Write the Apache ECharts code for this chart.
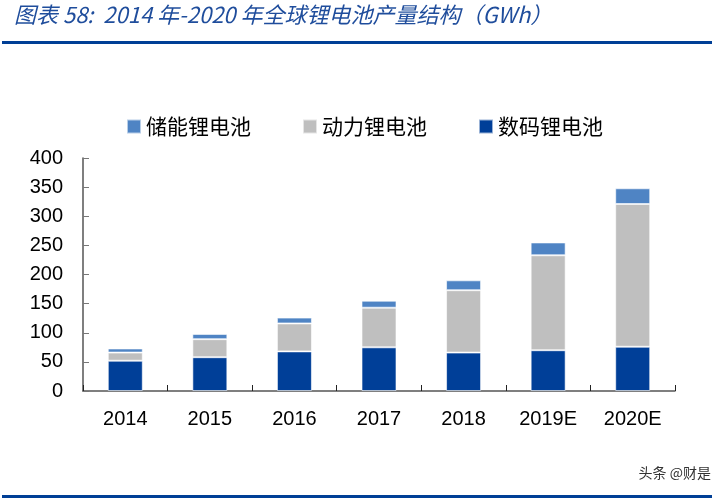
<!DOCTYPE html>
<html>
<head>
<meta charset="utf-8">
<script src="https://cdn.jsdelivr.net/npm/echarts@6/dist/echarts.min.js"></script>
<style>
html,body{margin:0;padding:0;background:#fff;}
#c{width:715px;height:501px;}
</style>
</head>
<body>
<div id="c"></div>
<script>
const categories = ['2014','2015','2016','2017','2018','2019E','2020E'];
const digital = [52, 58, 68, 75, 66, 70, 76];
const power = [14, 31, 48, 68, 107, 163, 245];
const storage = [7, 9, 10, 12, 17, 22, 27];
const yTicks = [0, 50, 100, 150, 200, 250, 300, 350, 400];

const chart = echarts.init(document.getElementById('c'));
const barBorder = {borderColor: 'rgba(255,255,255,0.6)', borderWidth: 1};
chart.setOption({
  animation: false,
  title: {
    text: '图表 58:  2014 年-2020 年全球锂电池产量结构（GWh）',
    left: 14, top: 4, padding: 0,
    textStyle: {fontFamily: '"Noto Sans CJK SC", sans-serif', fontStyle: 'italic', fontWeight: 'normal', fontSize: 22, color: '#1f4d9c'}
  },
  graphic: [
    {type: 'rect', shape: {x: 2, y: 41, width: 710, height: 3}, style: {fill: '#003f96'}},
    {type: 'rect', shape: {x: 2, y: 495, width: 710, height: 3}, style: {fill: '#003f96'}},
    {type: 'text', right: 4, top: 466, style: {text: '头条 @财是', font: '14px "Noto Sans CJK SC", sans-serif', fill: '#333'}}
  ],
  legend: {
    top: 116, left: 126, padding: 0,
    itemWidth: 14, itemHeight: 14, itemGap: 51,
    icon: 'rect',
    textStyle: {fontFamily: '"Noto Sans CJK SC", sans-serif', fontSize: 21, color: '#000', padding: [0,0,0,0]},
    data: ['储能锂电池', '动力锂电池', '数码锂电池']
  },
  grid: {left: 83, right: 40, top: 158, bottom: 110, containLabel: false},
  xAxis: {
    type: 'category',
    data: categories,
    axisLine: {lineStyle: {color: '#555', width: 1.5}},
    axisTick: {show: true, inside: true, length: 6, lineStyle: {color: '#222'}},
    axisLabel: {color: '#000', fontSize: 20, margin: 18, fontFamily: '"Liberation Sans", sans-serif'}
  },
  yAxis: {
    type: 'value',
    min: 0, max: 400, interval: 50,
    splitLine: {show: false},
    axisLine: {show: true, lineStyle: {color: '#555', width: 1.5}},
    axisTick: {show: true, inside: true, length: 6, lineStyle: {color: '#777'}},
    axisLabel: {color: '#000', fontSize: 20, margin: 20, fontFamily: '"Liberation Sans", sans-serif',
      formatter: v => yTicks.includes(v) ? String(v) : ''}
  },
  series: [
    {name: '数码锂电池', type: 'bar', stack: 't', data: digital, barWidth: 35, itemStyle: Object.assign({color: '#003f98'}, barBorder)},
    {name: '动力锂电池', type: 'bar', stack: 't', data: power, barWidth: 35, itemStyle: Object.assign({color: '#bfbfbf'}, barBorder)},
    {name: '储能锂电池', type: 'bar', stack: 't', data: storage, barWidth: 35, itemStyle: Object.assign({color: '#4f84c4'}, barBorder)}
  ]
});
</script>
</body>
</html>
